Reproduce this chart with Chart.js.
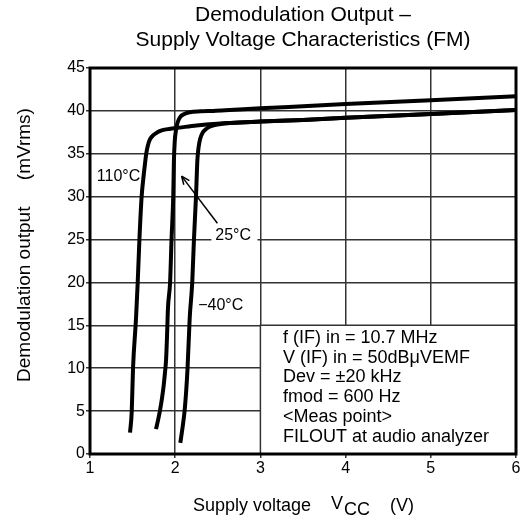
<!DOCTYPE html>
<html>
<head>
<meta charset="utf-8">
<script src="https://cdn.jsdelivr.net/npm/chart.js@4.4.1/dist/chart.umd.min.js"></script>
<style>
  html, body { margin: 0; padding: 0; background: #fff; }
  #wrap { width: 524px; height: 525px; }
</style>
</head>
<body>
<div id="wrap"><canvas id="chart" width="524" height="525"></canvas></div>
<script>
// Demodulation output (mVrms) vs supply voltage Vcc (V)
const curve110 = [
    [1.47, 2.5], [1.49, 5], [1.505, 10], [1.54, 15.8], [1.56, 20], [1.58, 25],
    [1.606, 30], [1.63, 32.5], [1.645, 33.8], [1.66, 35], [1.68, 36], [1.705, 36.7],
    [1.74, 37.15], [1.79, 37.5], [1.85, 37.75], [1.93, 37.9], [2.05, 38.05], [2.25, 38.3],
    [2.49, 38.5], [3.0, 38.75], [3.5, 38.95], [4.0, 39.2], [5.0, 39.65], [6.0, 40.1]
];
const curve25 = [
    [1.775, 2.9], [1.80, 4], [1.82, 5], [1.845, 6.5], [1.865, 8], [1.88, 9.5],
    [1.893, 11], [1.905, 14], [1.915, 17], [1.94, 20], [1.957, 25], [1.977, 30],
    [1.985, 34.2], [1.995, 36.5], [2.01, 37.8], [2.03, 38.7], [2.06, 39.3], [2.10, 39.6],
    [2.17, 39.85], [2.3, 39.95], [2.45, 40.0], [2.64, 40.1], [3.0, 40.3], [3.5, 40.55],
    [4.0, 40.8], [5.0, 41.25], [6.0, 41.7]
];
const curveMinus40 = [
    [2.06, 1.3], [2.085, 3], [2.11, 5], [2.13, 7.5], [2.145, 10], [2.17, 15.8],
    [2.2, 20], [2.22, 25], [2.244, 30], [2.26, 34.2], [2.275, 35.8], [2.295, 36.8],
    [2.325, 37.5], [2.37, 37.95], [2.43, 38.25], [2.52, 38.45], [2.64, 38.58],
    [3.0, 38.75], [3.5, 38.95], [4.0, 39.2], [5.0, 39.65], [6.0, 40.1]
];

const xTicks = [1, 2, 3, 4, 5, 6];
const yTicks = [0, 5, 10, 15, 20, 25, 30, 35, 40, 45];

const titleLines = ['Demodulation Output \u2013', 'Supply Voltage Characteristics (FM)'];
const conditionLines = [
    'f (IF) in = 10.7 MHz',
    'V (IF) in = 50dB\u03bcVEMF',
    'Dev = \u00b120 kHz',
    'fmod = 600 Hz',
    '<Meas point>',
    'FILOUT at audio analyzer'
];

const FONT = '"Liberation Sans", Arial, sans-serif';

const toPoints = arr => arr.map(p => ({ x: p[0], y: p[1] }));

// white condition box in the lower right, text labels, arrow, frame and titles
const decorPlugin = {
    id: 'decor',
    beforeDatasetsDraw(chart) {
        const { ctx, scales: { x, y }, chartArea: a } = chart;
        const left = x.getPixelForValue(3);
        const top = y.getPixelForValue(15);
        ctx.save();
        ctx.fillStyle = '#fff';
        ctx.fillRect(left, top, a.right - left, a.bottom - top);
        ctx.strokeStyle = '#333';
        ctx.lineWidth = 1.5;
        ctx.beginPath();
        ctx.moveTo(left, a.bottom);
        ctx.lineTo(left, top);
        ctx.lineTo(a.right, top);
        ctx.stroke();

        // white patch behind the 25°C label
        ctx.fillRect(x.getPixelForValue(2.425), y.getPixelForValue(25.5) - 9, 46, 18);
        ctx.restore();
    },
    afterDatasetsDraw(chart) {
        const { ctx, scales: { x, y }, chartArea: a } = chart;
        ctx.save();
        ctx.fillStyle = '#000';
        ctx.font = '16px ' + FONT;
        ctx.textBaseline = 'middle';
        ctx.textAlign = 'left';

        ctx.fillText('110\u00b0C', x.getPixelForValue(1.08), y.getPixelForValue(32.3));
        ctx.fillText('25\u00b0C', x.getPixelForValue(2.47), y.getPixelForValue(25.5));
        ctx.fillText('\u221240\u00b0C', x.getPixelForValue(2.27), y.getPixelForValue(17.3));

        // arrow pointing at the 25°C curve
        const x0 = x.getPixelForValue(2.495), y0 = y.getPixelForValue(26.9);
        const x1 = x.getPixelForValue(2.075), y1 = y.getPixelForValue(32.4);
        ctx.strokeStyle = '#000';
        ctx.lineWidth = 1.5;
        ctx.beginPath();
        ctx.moveTo(x0, y0);
        ctx.lineTo(x1, y1);
        ctx.stroke();
        const ang = Math.atan2(y1 - y0, x1 - x0);
        ctx.beginPath();
        ctx.moveTo(x1, y1);
        ctx.lineTo(x1 - 9 * Math.cos(ang - 0.4), y1 - 9 * Math.sin(ang - 0.4));
        ctx.moveTo(x1, y1);
        ctx.lineTo(x1 - 9 * Math.cos(ang + 0.4), y1 - 9 * Math.sin(ang + 0.4));
        ctx.stroke();

        // test conditions
        ctx.font = '18px ' + FONT;
        const tx = x.getPixelForValue(3.265);
        const ty = y.getPixelForValue(15) + 12.5;
        conditionLines.forEach((t, i) => ctx.fillText(t, tx, ty + i * 19.8));

        // plot frame
        ctx.lineWidth = 3;
        ctx.strokeRect(a.left, a.top, a.right - a.left, a.bottom - a.top);
        ctx.restore();
    },
    afterDraw(chart) {
        const { ctx, chartArea: a } = chart;
        const cx = (a.left + a.right) / 2;
        ctx.save();
        ctx.fillStyle = '#000';
        ctx.textBaseline = 'middle';

        // main title
        ctx.font = '21px ' + FONT;
        ctx.textAlign = 'center';
        ctx.fillText(titleLines[0], cx, 15);
        ctx.fillText(titleLines[1], cx, 40);

        // x axis title with subscript
        ctx.font = '18px ' + FONT;
        ctx.textAlign = 'left';
        const yMid = 506;
        ctx.fillText('Supply voltage', 193, yMid);
        ctx.fillText('V', 331, yMid - 2);
        ctx.fillText('CC', 344, yMid + 4);
        ctx.fillText('(V)', 390, yMid);

        // y axis title
        ctx.font = '19px ' + FONT;
        ctx.translate(25, 245);
        ctx.rotate(-Math.PI / 2);
        ctx.textAlign = 'center';
        ctx.fillText('Demodulation output     (mVrms)', 0, 0);
        ctx.restore();
    }
};

const lineStyle = {
    showLine: true,
    borderColor: '#000',
    borderWidth: 4,
    pointRadius: 0,
    fill: false,
    cubicInterpolationMode: 'monotone',
    borderCapStyle: 'butt'
};

new Chart(document.getElementById('chart').getContext('2d'), {
    type: 'scatter',
    data: {
        datasets: [
            { label: '110°C', data: toPoints(curve110), ...lineStyle },
            { label: '25°C', data: toPoints(curve25), ...lineStyle },
            { label: '-40°C', data: toPoints(curveMinus40), ...lineStyle }
        ]
    },
    options: {
        responsive: false,
        animation: false,
        layout: { padding: { left: 0, top: 68, right: 8, bottom: 0 } },
        plugins: {
            legend: { display: false },
            title: { display: false },
            tooltip: { enabled: false }
        },
        scales: {
            x: {
                type: 'linear',
                min: xTicks[0],
                max: xTicks[xTicks.length - 1],
                afterBuildTicks: s => { s.ticks = xTicks.map(v => ({ value: v })); },
                afterFit: s => { s.height = 71; },
                grid: { color: '#333', lineWidth: 1.5, tickLength: 4 },
                border: { display: false },
                ticks: { color: '#000', font: { family: FONT, size: 16 }, padding: 1, maxRotation: 0 }
            },
            y: {
                type: 'linear',
                min: yTicks[0],
                max: yTicks[yTicks.length - 1],
                afterBuildTicks: s => { s.ticks = yTicks.map(v => ({ value: v })); },
                afterFit: s => { s.width = 90; },
                grid: { color: '#333', lineWidth: 1.5, tickLength: 4 },
                border: { display: false },
                ticks: { color: '#000', font: { family: FONT, size: 16 }, padding: 1 }
            }
        }
    },
    plugins: [decorPlugin]
});
</script>
</body>
</html>
